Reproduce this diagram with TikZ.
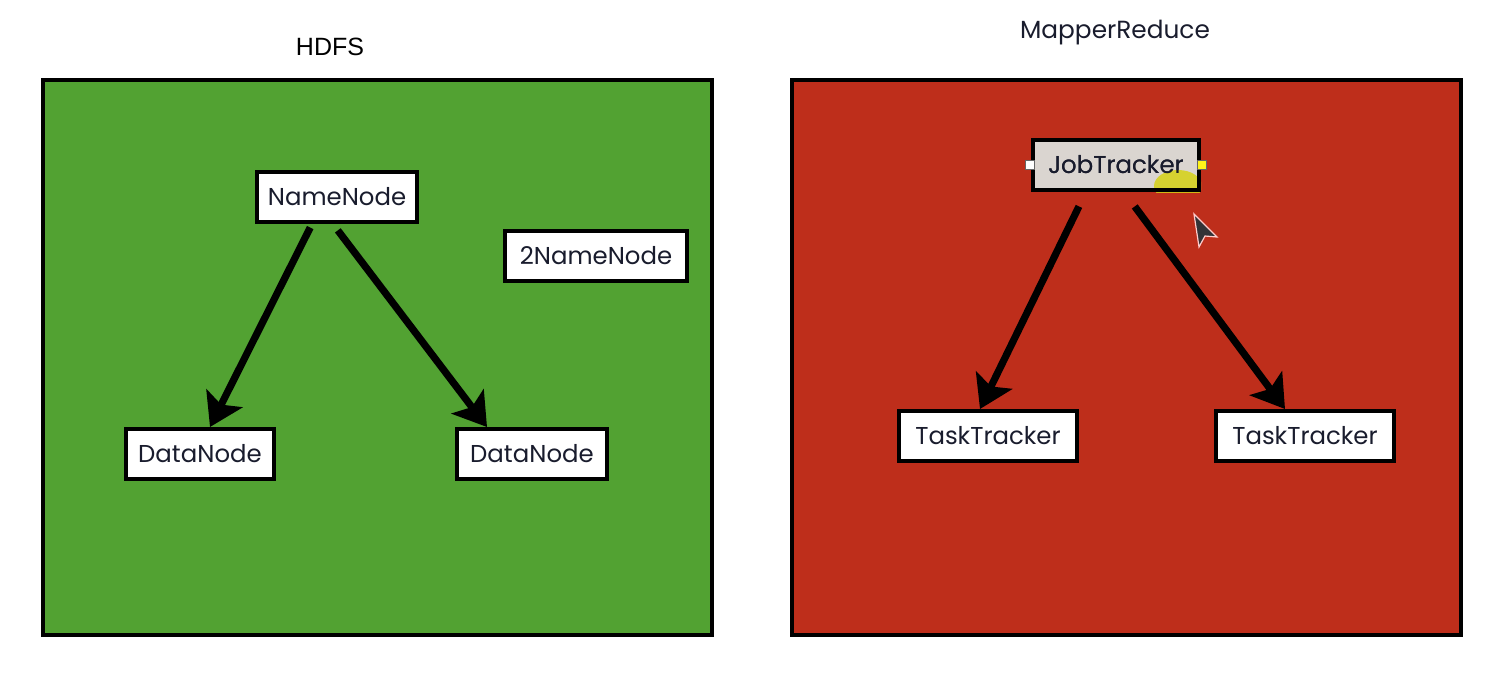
\documentclass[tikz,border=0pt]{standalone}
\usepackage{fontspec}
\setmainfont{Poppins}
\newfontfamily\titlefont{Liberation Sans}
\usetikzlibrary{arrows.meta,calc}
\definecolor{hgreen}{RGB}{82,162,50}
\definecolor{hred}{RGB}{190,46,27}
\definecolor{ink}{RGB}{25,28,45}
\definecolor{selgray}{RGB}{218,213,208}
\definecolor{hiyellow}{RGB}{214,210,20}
\tikzset{
  panel/.style={draw=black, line width=2.4pt},
  box/.style={draw=black, line width=2pt, fill=white, text=ink, font=\fontsize{12.2}{14}\selectfont, inner sep=0pt, minimum height=25pt},
  flow/.style={line width=3.6pt, -{Stealth[length=16pt,width=20pt,inset=3.5pt]}},
  title/.style={text=ink, font=\fontsize{12.4}{14}\selectfont},
  handle/.style={draw=black!60, line width=0.4pt, minimum size=4.5pt, inner sep=0pt}
}
\begin{document}
\begin{tikzpicture}[x=0.5pt,y=-0.5pt]
\useasboundingbox (0,0) rectangle (1506,676);
% panels
\node[panel, fill=hgreen, minimum width=334.5pt, minimum height=277.5pt, inner sep=0pt] (hdfs) at (377.5,357.5) {};
\node[panel, fill=hred, minimum width=334.5pt, minimum height=277.5pt, inner sep=0pt] (mr) at (1126.5,357.5) {};
% titles
\node[text=black, font=\titlefont\fontsize{12.5}{14}\selectfont] (t1) at (330,47) {HDFS};
\node[title] (t2) at (1115,33) {MapperReduce};
% HDFS nodes
\node[box, minimum width=80pt] (nn) at (337,197) {NameNode};
\node[box, minimum width=91pt] (snn) at (596,256) {2NameNode};
\node[box, minimum width=74pt] (dn1) at (200,454) {DataNode};
\node[box, minimum width=75pt] (dn2) at (532,454) {DataNode};
% MapReduce nodes
\node[box, fill=selgray, minimum width=83pt] (jt) at (1116,165) {JobTracker};
\begin{scope}
  \clip (jt.south west) rectangle (jt.north east);
  \fill[hiyellow, opacity=0.85] (1178,186) ellipse (24 and 16);
\end{scope}
\node[box, fill=none, minimum width=83pt] at (jt) {JobTracker};
\node[box, minimum width=89pt] (tt1) at (988,436) {TaskTracker};
\node[box, minimum width=89pt] (tt2) at (1305,436) {TaskTracker};
% selection handles
\node[handle, fill=white] (hl) at ($(jt.west)+(-1,0)$) {};
\node[handle, fill=yellow!90!white] (hr) at ($(jt.east)+(1,0)$) {};
% arrows
\draw[flow, shorten <=2pt] ($(nn.south)+(-25,0)$) -- ($(dn1.north)+(10,0)$);
\draw[flow, shorten <=4pt] ($(nn.south)+(-4,0)$) -- ($(dn2.north)+(-45,0)$);
\draw[flow, shorten <=8pt] ($(jt.south)+(-30,0)$) -- ($(tt1.north)+(-8,0)$);
\draw[flow, shorten <=9pt] ($(jt.south)+(8,0)$) -- ($(tt2.north)+(-20,0)$);
% mouse cursor
\filldraw[fill=black!75!cyan!40!black, draw=white!80!red, line width=0.6pt]
  (1194,214) -- (1217,237) -- (1205,236) -- (1199,247) -- cycle;
\end{tikzpicture}
\end{document}
